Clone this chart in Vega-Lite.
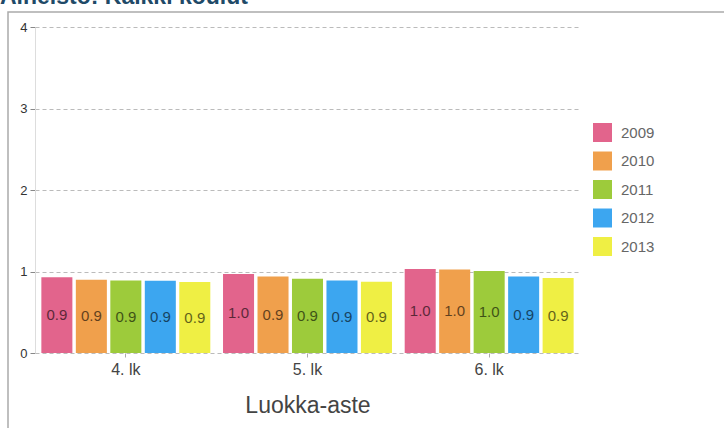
{
  "$schema": "https://vega.github.io/schema/vega-lite/v6.json",
  "width": 722,
  "height": 422,
  "autosize": {"type": "none"},
  "padding": {"left": 8, "top": 12, "right": -6, "bottom": -6},
  "background": "white",
  "title": {
    "text": "Aineisto: Kaikki koulut",
    "anchor": "start",
    "fontSize": 23,
    "fontWeight": "bold",
    "color": "#1f4a68",
    "font": "Liberation Sans",
    "offset": 3,
    "dx": -8
  },
  "config": {
    "font": "Liberation Sans",
    "view": {"stroke": "#aaaaaa", "strokeWidth": 1.5}
  },
  "data": {
    "values": [
      {"grade": "4. lk", "year": "2009", "v": 0.93},
      {"grade": "4. lk", "year": "2010", "v": 0.90},
      {"grade": "4. lk", "year": "2011", "v": 0.89},
      {"grade": "4. lk", "year": "2012", "v": 0.885},
      {"grade": "4. lk", "year": "2013", "v": 0.87},
      {"grade": "5. lk", "year": "2009", "v": 0.97},
      {"grade": "5. lk", "year": "2010", "v": 0.94},
      {"grade": "5. lk", "year": "2011", "v": 0.91},
      {"grade": "5. lk", "year": "2012", "v": 0.89},
      {"grade": "5. lk", "year": "2013", "v": 0.875},
      {"grade": "6. lk", "year": "2009", "v": 1.03},
      {"grade": "6. lk", "year": "2010", "v": 1.025},
      {"grade": "6. lk", "year": "2011", "v": 1.005},
      {"grade": "6. lk", "year": "2012", "v": 0.94},
      {"grade": "6. lk", "year": "2013", "v": 0.92}
    ]
  },
  "encoding": {
    "x": {
      "field": "grade",
      "type": "nominal",
      "scale": {"range": [27, 572], "paddingInner": 0.07, "paddingOuter": 0.035},
      "axis": {
        "orient": "bottom",
        "offset": -81,
        "domain": false,
        "grid": false,
        "ticks": true,
        "tickSize": 4,
        "tickColor": "#aaaaaa",
        "labelAngle": 0,
        "labelFontSize": 16,
        "labelColor": "#444444",
        "labelPadding": 4,
        "title": "Luokka-aste",
        "titleFontSize": 23,
        "titleFontWeight": "normal",
        "titleColor": "#444444",
        "titlePadding": 17
      }
    },
    "xOffset": {
      "field": "year",
      "type": "nominal",
      "scale": {"paddingInner": 0.1, "paddingOuter": 0}
    },
    "y": {
      "field": "v",
      "type": "quantitative",
      "stack": "zero",
      "scale": {"domain": [0, 4], "range": [341, 15], "nice": false, "zero": true},
      "axis": {
        "orient": "left",
        "offset": -27,
        "values": [0, 1, 2, 3, 4],
        "format": "d",
        "domain": true,
        "domainColor": "#dddddd",
        "ticks": true,
        "tickSize": 5,
        "tickColor": "#888888",
        "labelFontSize": 13,
        "labelColor": "#333333",
        "labelPadding": 3,
        "grid": true,
        "gridColor": "#bbbbbb",
        "gridDash": [4, 3],
        "title": null
      }
    }
  },
  "layer": [
    {
      "mark": {"type": "bar"},
      "encoding": {
        "color": {
          "field": "year",
          "type": "nominal",
          "scale": {"range": ["#e2648c", "#f0a04c", "#9dcb3b", "#3ca6f0", "#efef44"]},
          "legend": {
            "orient": "none",
            "legendX": 585,
            "legendY": 111,
            "title": null,
            "symbolType": "square",
            "symbolSize": 361,
            "symbolStrokeWidth": 0,
            "labelFontSize": 15,
            "labelColor": "#666666",
            "labelOffset": 9,
            "rowPadding": 9.5
          }
        }
      }
    },
    {
      "mark": {"type": "text", "fill": "#000000", "opacity": 0.6, "fontSize": 15},
      "encoding": {
        "y": {"field": "v", "type": "quantitative", "stack": "zero", "bandPosition": 0.5},
        "text": {"field": "v", "type": "quantitative", "format": ".1f"}
      }
    }
  ]
}
